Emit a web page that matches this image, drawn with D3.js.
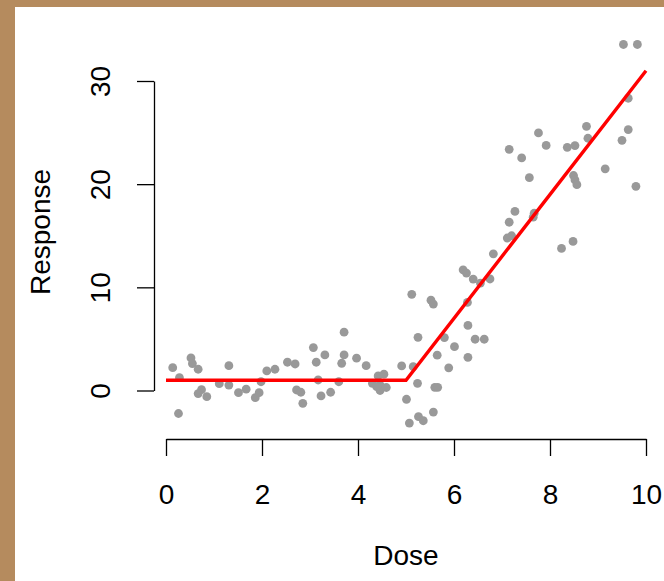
<!DOCTYPE html>
<html lang="en">
<head>
    <meta charset="UTF-8">
    <title>Dose Response</title>
    <script src="https://d3js.org/d3.v7.min.js"></script>
    <style>
        body { margin: 0; padding: 0; background: #b58b5e; }
        #chart { width: 664px; height: 581px; }
        text { font-family: "Liberation Sans", Arial, sans-serif; fill: #000; }
    </style>
</head>
<body>
    <div id="chart"></div>
    <script>
        // dose / response pairs
        var dose = [0.14, 0.28, 0.26, 0.52, 0.55, 0.67, 0.74, 0.67, 0.85, 1.11,
                    1.31, 1.31, 1.51, 1.67, 1.86, 1.94, 1.98, 2.10, 2.27, 2.53,
                    2.69, 2.72, 2.81, 2.85, 3.07, 3.13, 3.17, 3.23, 3.31, 3.43,
                    3.60, 3.66, 3.71, 3.71, 3.97, 4.17, 4.30, 4.42, 4.54, 4.46,
                    4.46, 4.59, 4.39, 4.91, 5.15, 5.25, 5.01, 5.24, 5.07, 5.26,
                    5.36, 5.12, 5.52, 5.57, 5.80, 6.01, 5.65, 5.89, 5.60, 5.66,
                    5.57, 6.29, 6.29, 6.44, 6.63, 6.28, 6.19, 6.26, 6.40, 6.55,
                    6.75, 6.82, 7.11, 7.20, 7.15, 7.27, 7.65, 7.67, 7.15, 7.41,
                    7.57, 7.76, 7.92, 8.24, 8.48, 8.36, 8.52, 8.49, 8.52, 8.56,
                    8.76, 8.79, 9.15, 9.50, 9.63, 9.63, 9.79, 9.53, 9.82];
        var response = [2.21, 1.24, -2.23, 3.16, 2.61, 2.06, 0.08, -0.30, -0.60, 0.66,
                        2.41, 0.53, -0.21, 0.13, -0.70, -0.21, 0.85, 1.90, 2.06, 2.74,
                        2.57, 0.05, -0.17, -1.24, 4.16, 2.74, 1.02, -0.53, 3.45, -0.17,
                        0.85, 2.64, 3.45, 5.65, 3.13, 2.41, 0.70, 1.41, 1.58, 0.53,
                        0.00, 0.29, 0.37, 2.38, 2.31, 5.15, -0.85, 0.70, -3.16, -2.54,
                        -2.93, 9.32, 8.76, 8.38, 5.13, 4.25, 3.42, 2.20, 0.31, 0.31,
                        -2.09, 3.22, 6.31, 4.97, 4.97, 8.54, 11.70, 11.38, 10.80, 10.41,
                        10.81, 13.25, 14.78, 15.00, 16.31, 17.36, 16.80, 17.18, 23.38, 22.54,
                        20.63, 24.97, 23.76, 13.77, 14.45, 23.57, 23.74, 20.84, 20.41, 19.95,
                        25.61, 24.45, 21.49, 24.25, 25.29, 28.33, 19.79, 33.54, 33.54];

        // fitted broken-stick line
        var fitDose = [0, 5, 10];
        var fitResponse = [1, 1, 31];

        var xTicks = [0, 2, 4, 6, 8, 10];
        var yTicks = [0, 10, 20, 30];

        var W = 664, H = 581;

        var svg = d3.select("#chart").append("svg")
            .attr("width", W)
            .attr("height", H);

        // tan frame and white panel
        svg.append("rect").attr("width", W).attr("height", H).attr("fill", "#b58b5e");
        svg.append("rect").attr("x", 15).attr("y", 7).attr("width", W - 15).attr("height", H - 7).attr("fill", "#fff");

        var x = d3.scaleLinear().domain([0, 10]).range([166, 646]);
        var y = d3.scaleLinear().domain([0, 30]).range([390.5, 81]);

        // x axis
        var gx = svg.append("g")
            .attr("transform", "translate(0,439)")
            .call(d3.axisBottom(x).tickValues(xTicks).tickSize(17).tickSizeOuter(0));
        gx.selectAll("text")
            .attr("y", 65).attr("dy", 0)
            .style("font-size", "28px");

        // y axis
        var gy = svg.append("g")
            .attr("transform", "translate(154,0)")
            .call(d3.axisLeft(y).tickValues(yTicks).tickSize(17).tickSizeOuter(0));
        gy.selectAll("text")
            .attr("x", 0).attr("dy", 0)
            .attr("text-anchor", "middle")
            .attr("transform", "translate(-44,0) rotate(-90)")
            .style("font-size", "28px");
        svg.selectAll(".domain, .tick line").attr("stroke", "#000").attr("stroke-width", 1.3);

        // axis titles
        svg.append("text")
            .attr("x", 406).attr("y", 565)
            .attr("text-anchor", "middle")
            .style("font-size", "28px")
            .text("Dose");
        svg.append("text")
            .attr("transform", "translate(50,232) rotate(-90)")
            .attr("text-anchor", "middle")
            .style("font-size", "28px")
            .text("Response");

        // points
        svg.append("g").selectAll("circle")
            .data(dose.map((d, i) => [d, response[i]]))
            .enter().append("circle")
            .attr("cx", d => x(d[0]))
            .attr("cy", d => y(d[1]))
            .attr("r", 4.4)
            .attr("fill", "#999");

        // fitted line
        svg.append("path")
            .datum(fitDose.map((d, i) => [d, fitResponse[i]]))
            .attr("fill", "none")
            .attr("stroke", "#ff0000")
            .attr("stroke-width", 3.4)
            .attr("d", d3.line().x(d => x(d[0])).y(d => y(d[1])));
    </script>
</body>
</html>
